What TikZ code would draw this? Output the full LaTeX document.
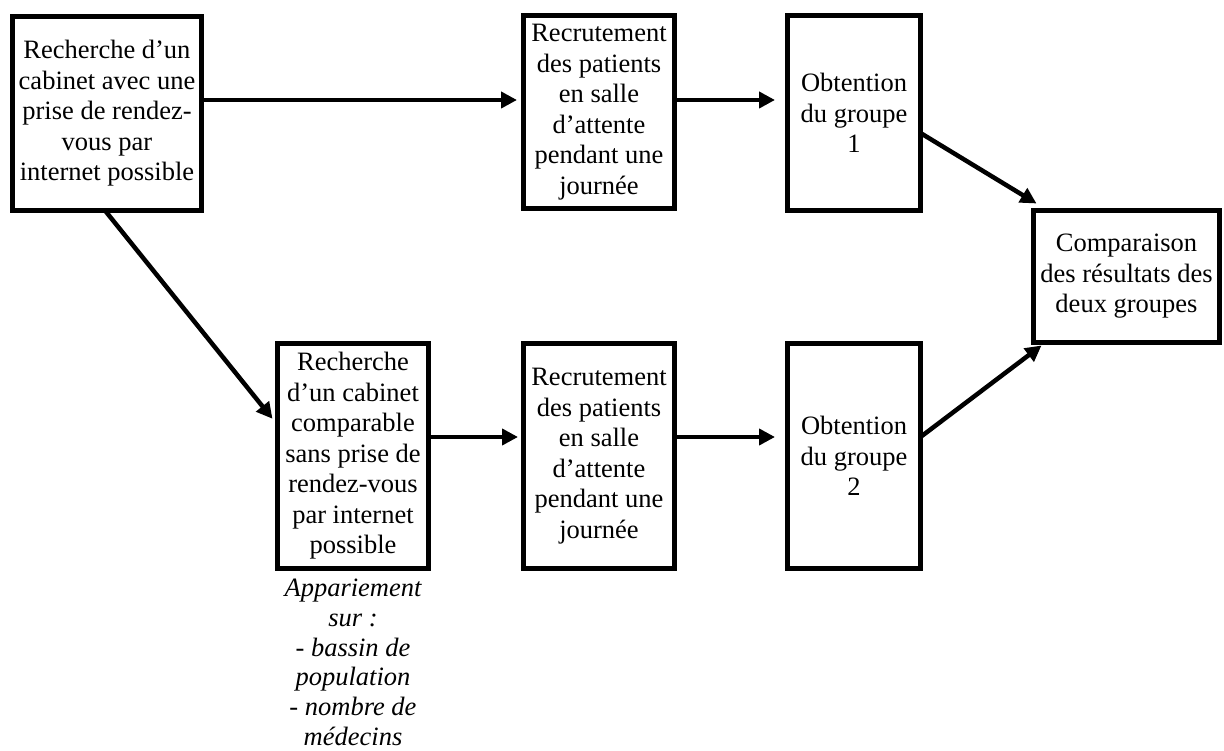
\documentclass[tikz,border=0pt]{standalone}
\usepackage{fontspec}
\setmainfont{Liberation Serif}
\usetikzlibrary{arrows.meta}
\begin{document}
\begin{tikzpicture}[x=1pt,y=-1pt,
  box/.style={draw=black, line width=5pt, fill=white, align=center, inner sep=0pt, outer sep=0pt,
    font=\fontsize{26.5}{30.5}\selectfont},
  note/.style={align=center, inner sep=0pt, outer sep=0pt,
    font=\fontsize{26.5}{29.8}\selectfont\itshape},
  arr/.style={line width=4.5pt, -{Triangle[length=16pt,width=16pt]}}]
\useasboundingbox[fill=white] (0,0) rectangle (1224,751);
\coordinate (r1) at (0,100);
\coordinate (r2) at (0,437);
\node[box, minimum width=189pt, minimum height=194pt] (A) at (107,113.5)
  {Recherche d’un\\cabinet avec une\\prise de rendez-\\vous par\\internet possible};
\node[box, minimum width=151pt, minimum height=193pt] (B) at (599,112)
  {Recrutement\\des patients\\en salle\\d’attente\\pendant une\\journée};
\node[box, minimum width=133pt, minimum height=195pt] (C) at (854,113)
  {Obtention\\du groupe\\1};
\node[box, minimum width=186pt, minimum height=132pt] (Comp) at (1126.5,276.5)
  {Comparaison\\des résultats des\\deux groupes};
\node[box, minimum width=151pt, minimum height=225pt] (D) at (353,456)
  {Recherche\\d’un cabinet\\comparable\\sans prise de\\rendez-vous\\par internet\\possible};
\node[box, minimum width=151pt, minimum height=225pt] (E) at (599,456)
  {Recrutement\\des patients\\en salle\\d’attente\\pendant une\\journée};
\node[box, minimum width=133pt, minimum height=225pt] (C2) at (854,456)
  {Obtention\\du groupe\\2};
\node[note, anchor=north] (N) at (353,579)
  {Appariement\\sur :\\- bassin de\\population\\- nombre de\\médecins};
\draw[arr, shorten >=6.5pt] (A.east |- r1) -- (B.west |- r1);
\draw[arr, shorten >=12.5pt] (B.east |- r1) -- (C.west |- r1);
\draw[arr, shorten >=5.5pt] (D.east |- r2) -- (E.west |- r2);
\draw[arr, shorten >=12.5pt] (E.east |- r2) -- (C2.west |- r2);
\draw[arr, shorten >=8pt] ([xshift=-2pt]A.south) -- ([yshift=31pt]D.west);
\draw[arr] ([yshift=-20pt]C.east) -- ([xshift=3pt,yshift=7pt]Comp.north west);
\draw[arr] (C2.east |- r2) -- ([xshift=8pt,yshift=-3pt]Comp.south west);
\end{tikzpicture}
\end{document}
